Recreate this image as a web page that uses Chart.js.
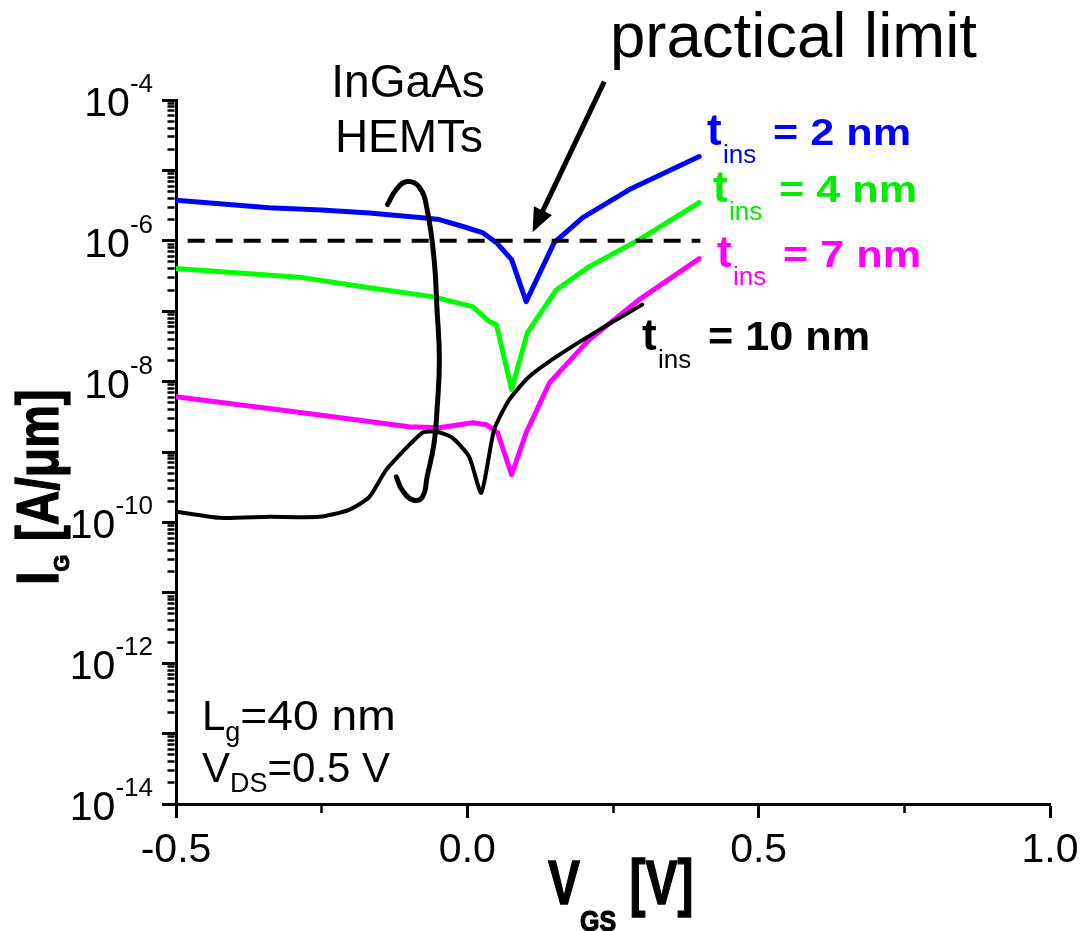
<!DOCTYPE html>
<html><head><meta charset="utf-8">
<script src="https://cdn.jsdelivr.net/npm/chart.js@4.4.0/dist/chart.umd.min.js"></script>
<style>html,body{margin:0;padding:0;background:#fff;}#wrap{width:1082px;height:931px;}</style>
</head><body><div id="wrap"><canvas id="c" width="1082" height="931"></canvas></div>
<script>
// ---- data (V_GS in V, I_G in A/um) ----
const tins2V = [-0.5,-0.34,-0.25,-0.168,-0.077,-0.048,-0.009,0.026,0.05,0.076,0.101,0.149,0.198,0.278,0.398];
const tins2I = [3.77e-6,2.94e-6,2.73e-6,2.49e-6,2.12e-6,2.0e-6,1.61e-6,1.31e-6,9.4e-7,5.4e-7,1.37e-7,9.4e-7,2.14e-6,5.35e-6,1.57e-5];
const tins4V = [-0.5,-0.283,-0.168,-0.06,0.009,0.038,0.05,0.076,0.103,0.153,0.209,0.295,0.398];
const tins4I = [4.03e-7,3.0e-7,2.16e-7,1.61e-7,1.16e-7,7.1e-8,6.44e-8,7.67e-9,4.95e-8,2.02e-7,4.3e-7,1.04e-6,3.49e-6];
const tins7V = [-0.5,-0.283,-0.1,-0.048,0.009,0.033,0.052,0.076,0.101,0.141,0.209,0.295,0.398];
const tins7I = [6.1e-9,3.61e-9,2.29e-9,2.21e-9,2.61e-9,2.44e-9,1.88e-9,4.75e-10,1.88e-9,9.6e-9,3.94e-8,1.46e-7,5.58e-7];
const tins10V = [-0.5,-0.426,-0.34,-0.254,-0.203,-0.168,-0.139,-0.077,-0.053,-0.026,0.003,0.024,0.046,0.072,0.106,0.153,0.227,0.3];
const tins10I = [1.42e-10,1.16e-10,1.2e-10,1.2e-10,1.51e-10,2.31e-10,5.6e-10,1.88e-9,1.94e-9,1.6e-9,8.6e-10,2.64e-10,2.07e-9,5.53e-9,1.17e-8,2.26e-8,5.47e-8,1.24e-7];
// hand-drawn outline around the InGaAs HEMT region
const hemtV = [-0.137,-0.122,-0.103,-0.082,-0.069,-0.057,-0.052,-0.048,-0.052,-0.057,-0.069,-0.077,-0.094,-0.112,-0.122];
const hemtI = [3.27e-6,5.35e-6,6.95e-6,5.71e-6,2.78e-6,5.41e-7,1.05e-7,2.05e-8,3.98e-9,1.35e-9,4.44e-10,2.31e-10,2.09e-10,2.9e-10,4.44e-10];
// practical limit line and arrow
const limitV = [-0.48, 0.40];
const limitI = [1e-6, 1e-6];
const arrowV = [0.235, 0.112];
const arrowI = [1.82e-4, 1.32e-6];
// ticks
const xTickValues = [-0.5,-0.25,0,0.25,0.5,0.75,1.0];
const xTickLabels = ['-0.5','0.0','0.5','1.0'];
const xLabelValues = [-0.5,0,0.5,1.0];
const yDecades = [-14,-13,-12,-11,-10,-9,-8,-7,-6,-5,-4];
const yLabelExps = [-14,-12,-10,-8,-6,-4];

const pts = (xs, ys) => xs.map((x, i) => ({x, y: ys[i]}));
const yTickValues = [];
yDecades.forEach(e => { for (let m = 1; m <= 9; m++) { if (e === -4 && m > 1) break; yTickValues.push(m * Math.pow(10, e)); } });
const isDecade = v => Math.abs(Math.log10(v) - Math.round(Math.log10(v))) < 1e-6;
const isHalf = v => Math.abs(v * 2 - Math.round(v * 2)) < 1e-6;

const FAM = '"Liberation Sans", Arial, Helvetica, sans-serif';
function rich(ctx, parts, x, y, opts) {
  opts = opts || {};
  ctx.save();
  ctx.textBaseline = 'alphabetic';
  ctx.textAlign = 'left';
  let total = 0;
  parts.forEach(p => {
    ctx.font = (p.bold ? 'bold ' : '') + p.size + 'px ' + FAM;
    p.w = ctx.measureText(p.s).width * (p.sx || 1);
    total += p.w;
  });
  ctx.translate(x, y);
  if (opts.rot) ctx.rotate(opts.rot);
  let cx = opts.align === 'center' ? -total / 2 : opts.align === 'right' ? -total : 0;
  parts.forEach(p => {
    ctx.save();
    ctx.font = (p.bold ? 'bold ' : '') + p.size + 'px ' + FAM;
    ctx.fillStyle = opts.color || '#000';
    ctx.strokeStyle = opts.color || '#000';
    ctx.translate(cx, p.dy || 0);
    ctx.scale(p.sx || 1, p.sy || 1);
    ctx.fillText(p.s, 0, 0);
    if (opts.heavy) { ctx.lineWidth = opts.heavy; ctx.strokeText(p.s, 0, 0); }
    ctx.restore();
    cx += p.w;
  });
  ctx.restore();
}

const annot = {
  id: 'annot',
  afterDraw(chart) {
    const ctx = chart.ctx, xs = chart.scales.x, ys = chart.scales.y;
    // tick labels
    yLabelExps.forEach(e => {
      const py = ys.getPixelForValue(Math.pow(10, e));
      rich(ctx, [{s: '10', size: 41}, {s: String(e), size: 26, dy: -24}], 153, py + 16, {align: 'right'});
    });
    xLabelValues.forEach((v, i) => {
      rich(ctx, [{s: xTickLabels[i], size: 41}], xs.getPixelForValue(v), 862, {align: 'center'});
    });
    // axis titles
    rich(ctx, [{s: 'I', size: 48, bold: true, sy: 1.25}, {s: 'G', size: 22, bold: true, dy: 11}, {s: ' [A/\u03bcm]', size: 48, bold: true, sy: 1.25}], 58, 585, {rot: -Math.PI / 2, heavy: 1});
    rich(ctx, [{s: 'V', size: 48, bold: true, sy: 1.3}, {s: 'GS', size: 25, bold: true, dy: 27, sy: 1.2}, {s: ' [V]', size: 48, bold: true, sy: 1.3}], 548, 904, {heavy: 1});
    // arrow
    const x1 = xs.getPixelForValue(arrowV[0]), y1 = ys.getPixelForValue(arrowI[0]);
    const x2 = xs.getPixelForValue(arrowV[1]), y2 = ys.getPixelForValue(arrowI[1]);
    const ang = Math.atan2(y2 - y1, x2 - x1), hl = 24, hw = 10;
    const bx = x2 - hl * Math.cos(ang), by = y2 - hl * Math.sin(ang);
    ctx.save();
    ctx.strokeStyle = '#000'; ctx.fillStyle = '#000'; ctx.lineWidth = 5; ctx.lineCap = 'butt';
    ctx.beginPath(); ctx.moveTo(x1, y1); ctx.lineTo(bx + 2 * Math.cos(ang), by + 2 * Math.sin(ang)); ctx.stroke();
    ctx.beginPath(); ctx.moveTo(x2, y2);
    ctx.lineTo(bx + hw * Math.sin(ang), by - hw * Math.cos(ang));
    ctx.lineTo(bx - hw * Math.sin(ang), by + hw * Math.cos(ang));
    ctx.closePath(); ctx.fill();
    ctx.restore();
    // texts
    rich(ctx, [{s: 'practical limit', size: 63.5}], 610, 57);
    rich(ctx, [{s: 'InGaAs', size: 46}], 408, 97, {align: 'center'});
    rich(ctx, [{s: 'HEMTs', size: 46}], 409, 152, {align: 'center'});
    const lab = (num, col, x, y, big, sx) => {
      rich(ctx, [{s: 't', size: 44, bold: true}], x, y, {color: col});
      rich(ctx, [{s: 'ins', size: 26}], x + 16, y + 18, {color: col});
      rich(ctx, [{s: '= ' + num + ' nm', size: big, bold: true, sx: sx}], x + 66, y, {color: col});
    };
    lab('2', '#0000ff', 707, 145, 36, 1.2);
    lab('4', '#00ee00', 713, 202, 36, 1.2);
    lab('7', '#ff00ff', 717, 267, 36, 1.2);
    lab('10', '#000000', 642, 350, 40, 1.08);
    rich(ctx, [{s: 'L', size: 42}, {s: 'g', size: 27, dy: 11}, {s: '=40 nm', size: 42, sx: 1.1}], 202, 730);
    rich(ctx, [{s: 'V', size: 42}, {s: 'DS', size: 27, dy: 10}, {s: '=0.5 V', size: 42}], 202, 782);
  }
};

const lineDs = (label, data, color, width, extra) => Object.assign({
  label, data, showLine: true, borderColor: color, backgroundColor: color, borderWidth: width,
  pointRadius: 0, pointHoverRadius: 0, fill: false, tension: 0, borderCapStyle: 'round', borderJoinStyle: 'round'
}, extra || {});

new Chart(document.getElementById('c').getContext('2d'), {
  type: 'scatter',
  data: {
    datasets: [
      lineDs('InGaAs HEMTs', pts(hemtV, hemtI), '#000000', 5, {tension: 0.45}),
      lineDs('practical limit', pts(limitV, limitI), '#000000', 4, {borderDash: [17, 11], borderCapStyle: 'butt'}),
      lineDs('t_ins = 2 nm', pts(tins2V, tins2I), '#0000ff', 5),
      lineDs('t_ins = 4 nm', pts(tins4V, tins4I), '#00ff00', 5),
      lineDs('t_ins = 10 nm', pts(tins10V, tins10I), '#000000', 4, {tension: 0.2}),
      lineDs('t_ins = 7 nm', pts(tins7V, tins7I), '#ff00ff', 5)
    ]
  },
  options: {
    responsive: false, animation: false, events: [],
    layout: {padding: {left: 162, right: 32, top: 100, bottom: 113}},
    plugins: {legend: {display: false}, tooltip: {enabled: false}},
    scales: {
      x: {
        type: 'linear', min: -0.5, max: 1.0,
        afterBuildTicks: s => { s.ticks = xTickValues.map(v => ({value: v})); },
        ticks: {display: false},
        grid: {drawOnChartArea: false, drawTicks: true, tickLength: 14, tickColor: '#000',
          tickWidth: c => (c.tick && isHalf(c.tick.value)) ? 3 : 2.5,
          tickBorderDash: c => (c.tick && isHalf(c.tick.value)) ? [] : [7, 200]},
        border: {display: true, color: '#000', width: 3}
      },
      y: {
        type: 'logarithmic', min: 1e-14, max: 1e-4,
        afterBuildTicks: s => { s.ticks = yTickValues.map(v => ({value: v})); },
        ticks: {display: false},
        grid: {drawOnChartArea: false, drawTicks: true, tickLength: 14, tickColor: '#000',
          tickWidth: c => (c.tick && isDecade(c.tick.value)) ? 3 : 2.5,
          tickBorderDash: c => (c.tick && isDecade(c.tick.value)) ? [] : [0, 5.5, 7, 200]},
        border: {display: true, color: '#000', width: 3}
      }
    }
  },
  plugins: [annot]
});
</script></body></html>
